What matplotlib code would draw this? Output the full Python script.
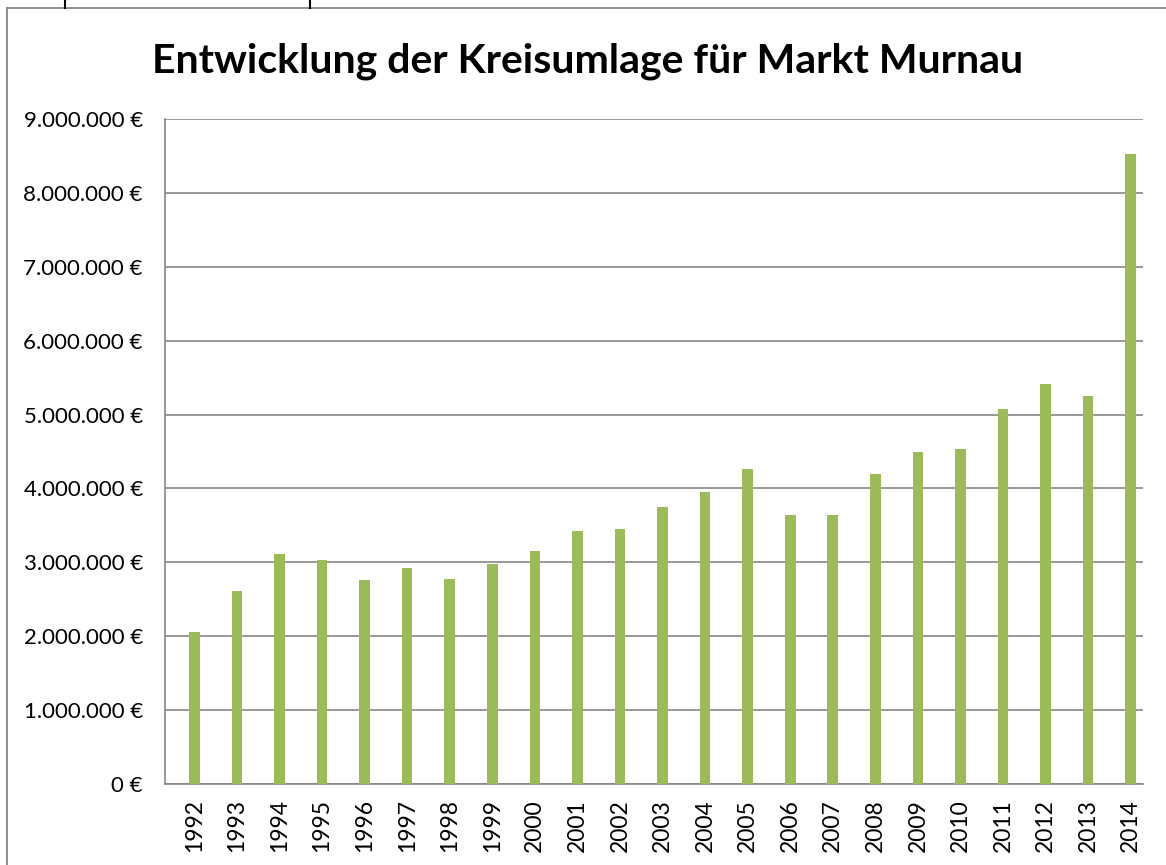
#!/usr/bin/env python3
"""Kreisumlage Markt Murnau, 1992-2014, as a simple bar chart."""

import matplotlib

matplotlib.use("Agg")
import matplotlib.pyplot as plt
from matplotlib.lines import Line2D
from matplotlib.ticker import FuncFormatter, MultipleLocator

YEARS = [str(y) for y in range(1992, 2015)]
VALUES = [
    2055000, 2610000, 3110000, 3030000, 2760000, 2920000, 2770000, 2980000,
    3160000, 3420000, 3450000, 3750000, 3950000, 4270000, 3640000, 3640000,
    4190000, 4500000, 4530000, 5080000, 5420000, 5250000, 8530000,
]
TITLE = "Entwicklung der Kreisumlage für Markt Murnau"

BAR_COLOR = "#9BBB59"
GRID_COLOR = "#868686"


def euro(value, _pos):
    return f"{value:,.0f} €".replace(",", ".")


def main():
    plt.rcParams["font.family"] = ["Lato", "DejaVu Sans"]

    fig = plt.figure(figsize=(11.66, 8.65), dpi=100)
    ax = fig.add_axes([0.1415, 0.0936, 0.8388, 0.7688])

    xs = range(len(YEARS))
    ax.bar(xs, VALUES, width=0.25, color=BAR_COLOR, zorder=3)

    ax.set_ylim(0, 9_000_000)
    ax.set_xlim(-0.69, len(YEARS) - 0.71)
    ax.yaxis.set_major_locator(MultipleLocator(1_000_000))
    ax.yaxis.set_major_formatter(FuncFormatter(euro))
    ax.set_xticks(list(xs), YEARS, rotation=90)
    ax.grid(axis="y", color=GRID_COLOR, linewidth=1.2, zorder=0)

    for side in ("top", "right"):
        ax.spines[side].set_visible(False)
    for side in ("left", "bottom"):
        ax.spines[side].set_color(GRID_COLOR)
        ax.spines[side].set_linewidth(1.2)

    ax.tick_params(axis="y", length=0, pad=16, labelsize=16, labelcolor="black")
    ax.tick_params(axis="x", length=0, pad=11, labelsize=16.5, labelcolor="black")

    fig.text(0.504, 0.929, TITLE, ha="center", va="center",
             fontsize=29.5, fontweight="bold", color="black")

    # outer chart frame and the bits of the sheet above it
    W, H = 1166, 865
    fig.add_artist(Line2D([7 / W, 7 / W], [0, 1 - 8 / H], transform=fig.transFigure,
                          color=GRID_COLOR, linewidth=1.3))
    fig.add_artist(Line2D([7 / W, 1], [1 - 8 / H, 1 - 8 / H], transform=fig.transFigure,
                          color=GRID_COLOR, linewidth=1.3))
    for px in (64.5, 310):
        fig.add_artist(Line2D([px / W, px / W], [1 - 8 / H, 1], transform=fig.transFigure,
                              color="black", linewidth=1.5))

    fig.savefig("out.png", dpi=100)


if __name__ == "__main__":
    main()
